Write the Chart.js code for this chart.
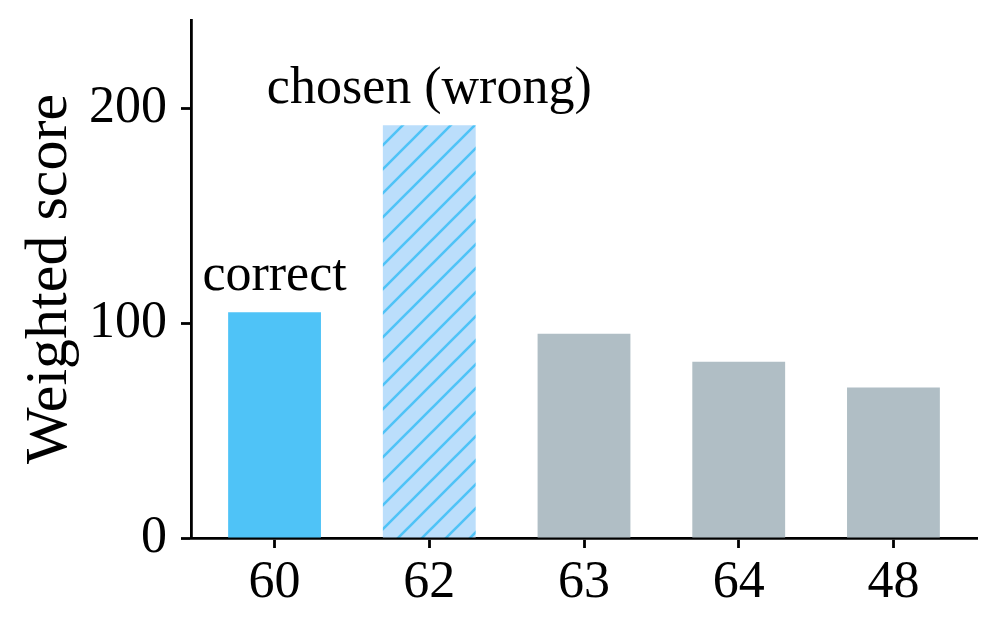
<!DOCTYPE html>
<html>
<head>
<meta charset="utf-8">
<script src="https://cdn.jsdelivr.net/npm/chart.js@4.4.1/dist/chart.umd.min.js"></script>
<style>
html,body{margin:0;padding:0;background:#fff;}
#wrap{width:997px;height:632px;position:relative;}
</style>
</head>
<body>
<div id="wrap"><canvas id="c" width="997" height="632"></canvas></div>
<script>
const categories = ['60', '62', '63', '64', '48'];
const scores = [105, 192, 95, 82, 70];
const annotations = ['correct', 'chosen (wrong)', '', '', ''];
const yTicks = [0, 100, 200];

const FONT = '"Liberation Serif", "Times New Roman", serif';

function hatchPattern() {
  const s = 24;
  const cv = document.createElement('canvas');
  cv.width = s; cv.height = s;
  const g = cv.getContext('2d');
  g.fillStyle = '#BBDEFB';
  g.fillRect(0, 0, s, s);
  g.strokeStyle = '#4FC3F7';
  g.lineWidth = 2.6;
  g.beginPath();
  g.moveTo(-2, s + 2); g.lineTo(s + 2, -2);
  g.moveTo(-2, 2); g.lineTo(2, -2);
  g.moveTo(s - 2, s + 2); g.lineTo(s + 2, s - 2);
  g.stroke();
  return g.createPattern(cv, 'repeat');
}

const colors = ['#4FC3F7', hatchPattern(), '#B0BEC5', '#B0BEC5', '#B0BEC5'];

const annotPlugin = {
  id: 'annot',
  afterDatasetsDraw(chart) {
    const ctx = chart.ctx;
    const xs = chart.scales.x, ys = chart.scales.y;
    ctx.save();
    ctx.font = '52px ' + FONT;
    ctx.fillStyle = '#000';
    ctx.textAlign = 'center';
    ctx.textBaseline = 'alphabetic';
    annotations.forEach((t, i) => {
      if (!t) return;
      ctx.fillText(t, xs.getPixelForValue(i), ys.getPixelForValue(scores[i]) - 22);
    });
    ctx.restore();
  }
};

new Chart(document.getElementById('c'), {
  type: 'bar',
  data: {
    datasets: [{
      data: scores.map((v, i) => ({ x: i, y: v })),
      backgroundColor: colors,
      borderWidth: 0,
      barPercentage: 0.6,
      categoryPercentage: 1.0
    }]
  },
  options: {
    responsive: false,
    animation: false,
    layout: { padding: { top: 20, right: 20, left: 0, bottom: 0 } },
    plugins: { legend: { display: false }, tooltip: { enabled: false } },
    scales: {
      x: {
        type: 'linear',
        offset: false,
        min: -0.54,
        max: 4.54,
        afterBuildTicks(scale) { scale.ticks = categories.map((_, i) => ({ value: i })); },
        afterFit(scale) { scale.height = 94; scale.paddingLeft = 0; scale.paddingRight = 0; },
        ticks: {
          callback: (v) => categories[v],
          font: { family: FONT, size: 52 },
          color: '#000',
          padding: 4,
          maxRotation: 0,
          autoSkip: false
        },
        grid: { offset: false, drawOnChartArea: false, drawTicks: true, tickLength: 10, tickWidth: 2.8, tickColor: '#000' },
        border: { color: '#000', width: 2.8 }
      },
      y: {
        min: 0,
        max: 241,
        afterBuildTicks(scale) { scale.ticks = yTicks.map(v => ({ value: v })); },
        afterFit(scale) { scale.width = 191; scale.paddingTop = 0; scale.paddingBottom = 0; },
        ticks: {
          font: { family: FONT, size: 52 },
          color: '#000',
          padding: 14
        },
        title: {
          display: true,
          text: 'Weighted score',
          font: { family: FONT, size: 60 },
          color: '#000',
          padding: { top: 14, bottom: 0 }
        },
        grid: { drawOnChartArea: false, drawTicks: true, tickLength: 10, tickWidth: 2.8, tickColor: '#000' },
        border: { color: '#000', width: 2.8 }
      }
    }
  },
  plugins: [annotPlugin]
});
</script>
</body>
</html>
